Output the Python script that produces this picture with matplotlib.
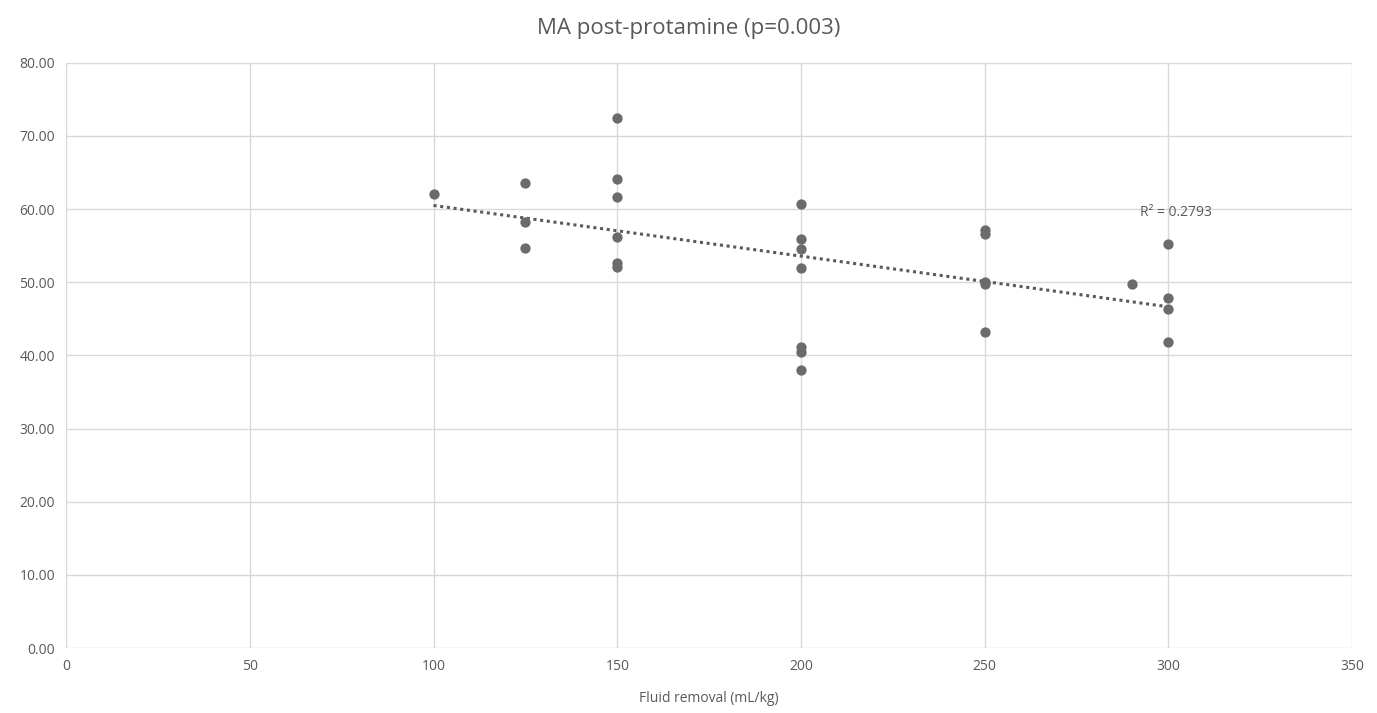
import numpy as np
import matplotlib
matplotlib.use("Agg")
import matplotlib.pyplot as plt

plt.rcParams["font.family"] = ["Open Sans", "DejaVu Sans"]

# fluid removal (mL/kg) and MA post-protamine
fluid = [100,
         125, 125, 125,
         150, 150, 150, 150, 150, 150,
         200, 200, 200, 200, 200, 200, 200,
         250, 250, 250, 250, 250,
         290,
         300, 300, 300, 300]
ma = [62.1,
      63.6, 58.2, 54.7,
      72.5, 64.1, 61.6, 56.2, 52.6, 52.1,
      60.7, 55.9, 54.5, 51.9, 41.2, 40.5, 38.0,
      57.2, 56.6, 50.1, 49.7, 43.2,
      49.8,
      55.2, 47.9, 46.4, 41.9]

title = "MA post-protamine (p=0.003)"
xlabel = "Fluid removal (mL/kg)"
r2_text = "R² = 0.2793"
xticks = [0, 50, 100, 150, 200, 250, 300, 350]
yticks = [0, 10, 20, 30, 40, 50, 60, 70, 80]

fig = plt.figure(figsize=(13.77, 7.13), dpi=100)
ax = fig.add_axes([0.048, 0.091, 0.934, 0.821])

ax.scatter(fluid, ma, s=55, color="#6b6b6b", zorder=3, linewidths=0)

# linear trend line over the data range
k, b = np.polyfit(fluid, ma, 1)
xt = np.array([min(fluid), max(fluid)])
ax.plot(xt, k * xt + b, linestyle=(0, (1, 1.2)), color="#595959", lw=2.2, zorder=2)

ax.text(302, 59.5, r2_text, ha="center", va="center", fontsize=10, color="#595959")

ax.set_xlim(0, 350)
ax.set_ylim(0, 80)
ax.set_xticks(xticks)
ax.set_yticks(yticks)
ax.set_yticklabels([f"{v:.2f}" for v in yticks])
ax.grid(True, color="#d9d9d9", lw=1)
ax.set_axisbelow(True)
for s in ax.spines.values():
    s.set_visible(False)
ax.tick_params(length=0, labelsize=10, labelcolor="#595959", pad=8)

ax.set_xlabel(xlabel, fontsize=10, color="#595959", labelpad=12)
fig.suptitle(title, fontsize=16, color="#595959", y=0.975)

fig.savefig("out.png", dpi=100)
